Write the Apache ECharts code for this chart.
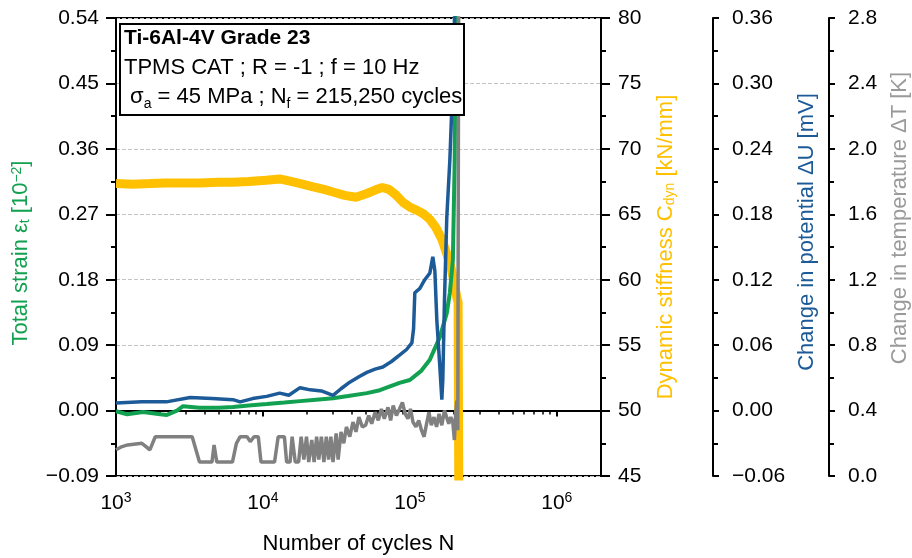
<!DOCTYPE html>
<html>
<head>
<meta charset="utf-8">
<script src="https://cdn.jsdelivr.net/npm/echarts@6/dist/echarts.min.js"></script>
<style>
  html, body { margin: 0; padding: 0; background: #fff; }
  #chart { width: 912px; height: 558px; }
</style>
</head>
<body>
<div id="chart"></div>
<script>
// number of cycles range (log axis)
var xMin = 1000;
var xMax = 2000000;
var majorTicks = [1e3, 1e4, 1e5, 1e6];

// dynamic stiffness C_dyn [kN/mm]
var stiffness = [
  [1000, 67.35], [1300, 67.3], [1700, 67.35], [2200, 67.4], [3000, 67.4], [3700, 67.4],
  [5000, 67.45], [6200, 67.45], [8000, 67.5], [10500, 67.6], [13000, 67.7], [15000, 67.55],
  [18000, 67.35], [22000, 67.1], [26000, 66.9], [30000, 66.7], [36000, 66.45], [43000, 66.3],
  [50000, 66.55], [58000, 66.85], [65000, 67.05], [72000, 66.9], [80000, 66.5], [90000, 65.9],
  [100000, 65.55], [112000, 65.3], [125000, 65.0], [137000, 64.6], [150000, 64.0], [165000, 63.1],
  [178000, 62.0], [190000, 61.0], [200000, 59.8], [210000, 58.5], [213000, 58.3], [215250, 44]
];

// total strain [10^-2]
var strain = [
  [1000, -0.001], [1190, -0.005], [1530, -0.002], [2000, -0.005], [2220, -0.006], [2600, 0.0],
  [2860, 0.006], [3700, 0.004], [5000, 0.004], [6250, 0.005], [8000, 0.007], [10600, 0.009],
  [14000, 0.011], [17900, 0.013], [23000, 0.015], [30000, 0.017], [38000, 0.020], [51000, 0.024],
  [62500, 0.028], [85000, 0.038], [100000, 0.042], [120000, 0.055], [136800, 0.07], [160000, 0.101],
  [178400, 0.134], [187200, 0.162], [196200, 0.207], [202000, 0.345], [206000, 0.6]
];

// change in potential dU [mV]
var potential = [
  [1000, 0.007], [1500, 0.008], [2200, 0.008], [3200, 0.012], [4500, 0.011], [6250, 0.010],
  [7000, 0.008], [8500, 0.011], [10600, 0.013], [13000, 0.016], [15000, 0.014], [17900, 0.021],
  [21000, 0.019], [25000, 0.018], [30000, 0.014], [34000, 0.020], [39000, 0.026], [45000, 0.031],
  [51000, 0.035], [58000, 0.038], [65500, 0.040], [75000, 0.045], [85500, 0.051], [95000, 0.056],
  [103200, 0.062], [106000, 0.075], [108100, 0.108], [117000, 0.112], [126400, 0.120], [136800, 0.126],
  [143300, 0.141], [148000, 0.128], [152600, 0.083], [160000, 0.04], [165100, 0.010], [167600, 0.028],
  [172000, 0.10], [178400, 0.177], [187200, 0.230], [196200, 0.303], [205000, 0.40]
];

// change in temperature dT [K]
var temperature = [
  [1000, 0.16], [1100, 0.18], [1200, 0.19], [1500, 0.20], [1600, 0.18], [1700, 0.16], [1850, 0.24],
  [3300, 0.24], [3700, 0.085], [4500, 0.085], [4650, 0.19], [4850, 0.085], [6200, 0.085], [6600, 0.2],
  [7000, 0.24], [7800, 0.24], [8200, 0.21], [8700, 0.24], [9300, 0.24], [9700, 0.085], [12000, 0.085],
  [12700, 0.24], [14000, 0.24], [14500, 0.085], [15300, 0.085], [15800, 0.24], [16600, 0.085],
  [17500, 0.085], [18200, 0.24], [19000, 0.1], [19800, 0.24], [20500, 0.085], [21500, 0.22],
  [22300, 0.085], [23200, 0.24], [24000, 0.1], [25000, 0.24], [26000, 0.085], [27000, 0.24],
  [28000, 0.1], [29000, 0.24], [30000, 0.085], [31500, 0.26], [32500, 0.1], [34000, 0.27],
  [35500, 0.2], [37000, 0.3], [39000, 0.24], [41000, 0.33], [43000, 0.27], [45000, 0.36],
  [47500, 0.3], [50000, 0.31], [52500, 0.37], [55000, 0.32], [58000, 0.39], [61000, 0.34],
  [64000, 0.41], [67000, 0.35], [71000, 0.42], [74000, 0.34], [77000, 0.43], [81000, 0.37],
  [85000, 0.41], [89000, 0.45], [93000, 0.38], [97000, 0.35], [101000, 0.41], [105000, 0.33],
  [110000, 0.3], [115000, 0.34], [120000, 0.28], [125000, 0.24], [130000, 0.32], [135000, 0.39],
  [140000, 0.31], [146000, 0.36], [152000, 0.3], [158000, 0.38], [165000, 0.31], [172000, 0.4],
  [178000, 0.36], [184000, 0.32], [190000, 0.36], [196000, 0.33], [201000, 0.22], [205000, 0.38],
  [209000, 0.46], [212000, 0.28], [215250, 3.2]
];

var GREEN = '#12a150';
var ORANGE = '#ffc000';
var BLUE = '#1c5a98';
var GRAY = '#808080';
var FONT = 'Liberation Sans, Arial, sans-serif';

// minor tick positions for the log axis (2..9 x 10^n), placed on a helper value axis in log10 units
var minorLog = [];
for (var e = 3; e <= 6; e++) {
  for (var m = 2; m <= 9; m++) {
    var v = m * Math.pow(10, e);
    if (v <= xMax) minorLog.push(Math.log10(v));
  }
}

function minusFmt(digits) {
  return function (v) { return v.toFixed(digits).replace('-', '\u2212'); };
}

function yAx(opt) {
  return Object.assign({
    type: 'value',
    position: 'right',
    nameLocation: 'middle',
    nameRotate: 90,
    axisLine: { show: true, onZero: false, lineStyle: { color: '#000', width: 2 } },
    axisTick: { show: true, length: 8, lineStyle: { color: '#000', width: 2 } },
    minorTick: { show: true, splitNumber: 2, length: 5, lineStyle: { color: '#000', width: 2 } },
    axisLabel: { color: '#000', fontSize: 21, fontFamily: FONT, margin: 17 },
    splitLine: { show: false }
  }, opt);
}

// shift = move the name along the axis (positive = up), in px
function nameStyle(color, shift) {
  var base = { color: color, fontSize: 22, fontFamily: FONT };
  var pad = shift >= 0 ? [0, 0, 0, 2 * shift] : [0, -2 * shift, 0, 0];
  return {
    color: color, fontSize: 22, fontFamily: FONT, padding: pad,
    rich: {
      n: base,
      sub: { color: color, fontSize: 14, fontFamily: FONT, verticalAlign: 'bottom', padding: [8, 0, 0, 0] },
      sup: { color: color, fontSize: 14, fontFamily: FONT, verticalAlign: 'top', padding: [0, 0, 8, 0] }
    }
  };
}

var chart = echarts.init(document.getElementById('chart'), null, { renderer: 'canvas' });

var option = {
  animation: false,
  backgroundColor: '#fff',
  grid: {
    left: 116, right: 311, top: 18, bottom: 82,
    outerBoundsMode: 'none',
    show: true, borderColor: '#000', borderWidth: 2, backgroundColor: 'transparent'
  },
  xAxis: [{
    type: 'log',
    logBase: 10,
    min: xMin,
    max: xMax,
    position: 'bottom',
    name: 'Number of cycles N',
    nameLocation: 'middle',
    nameGap: 57,
    nameTextStyle: { color: '#000', fontSize: 22, fontFamily: FONT },
    axisLine: { show: true, lineStyle: { color: '#000', width: 2 } },
    axisTick: { show: true, length: 6, lineStyle: { color: '#000', width: 2 } },
    axisLabel: {
      margin: 15,
      color: '#000',
      formatter: function (v) {
        var p = Math.round(Math.log10(v));
        if (majorTicks.indexOf(Math.pow(10, p)) < 0 || Math.abs(v - Math.pow(10, p)) > 1e-6 * v) return '';
        return '{b|10}{s|' + p + '}';
      },
      rich: {
        b: { fontSize: 21, fontFamily: FONT, color: '#000' },
        s: { fontSize: 14, fontFamily: FONT, color: '#000', verticalAlign: 'top', padding: [0, 0, 10, 0] }
      }
    },
    splitLine: { show: false }
  }, {
    type: 'value',
    min: 3,
    max: Math.log10(xMax),
    position: 'bottom',
    offset: 0,
    axisLine: { show: false },
    axisLabel: { show: false },
    splitLine: { show: false },
    axisTick: { show: true, length: 4, customValues: minorLog, lineStyle: { color: '#000', width: 1.5 } }
  }],
  yAxis: [
    yAx({
      position: 'left',
      min: -0.09, max: 0.54, interval: 0.09,
      name: '{n|Total strain \u03b5}{sub|t}{n| [10}{sup|\u22122}{n|]}',
      nameGap: 84,
      nameTextStyle: nameStyle(GREEN, -6),
      axisLabel: { color: '#000', fontSize: 21, fontFamily: FONT, margin: 17, formatter: minusFmt(2) },
      axisTick: { show: true, length: 10, lineStyle: { color: '#000', width: 2 } },
      splitLine: { show: true, lineStyle: { color: '#c4c4c4', type: 'dashed', width: 1 } }
    }),
    yAx({
      min: 45, max: 80, interval: 5,
      name: '{n|Dynamic stiffness C}{sub|dyn}{n| [kN/mm]}',
      nameGap: 54,
      nameTextStyle: nameStyle(ORANGE, 0),
      axisTick: { show: true, length: 9, lineStyle: { color: '#000', width: 2 } }
    }),
    yAx({
      offset: 112,
      min: -0.06, max: 0.36, interval: 0.06,
      name: 'Change in potential \u0394U [mV]',
      nameGap: 72,
      nameTextStyle: nameStyle(BLUE, 15),
      axisLabel: { color: '#000', fontSize: 21, fontFamily: FONT, margin: 19, formatter: minusFmt(2) },
      axisTick: { show: true, length: 6, lineStyle: { color: '#000', width: 2 } },
      minorTick: { show: true, splitNumber: 2, length: 5, lineStyle: { color: '#000', width: 2 } }
    }),
    yAx({
      offset: 228,
      min: 0, max: 2.8, interval: 0.4,
      name: 'Change in temperature \u0394T [K]',
      nameGap: 60,
      nameTextStyle: nameStyle('#9a9a9a', 29),
      axisLabel: { color: '#000', fontSize: 21, fontFamily: FONT, margin: 19, formatter: minusFmt(1) },
      axisTick: { show: true, length: 6, lineStyle: { color: '#000', width: 2 } },
      minorTick: { show: true, splitNumber: 2, length: 5, lineStyle: { color: '#000', width: 2 } }
    })
  ],
  series: [
    {
      name: 'stiffness', type: 'line', xAxisIndex: 0, yAxisIndex: 1, data: stiffness,
      showSymbol: false, lineStyle: { color: ORANGE, width: 9 }, z: 2
    },
    {
      name: 'strain', type: 'line', xAxisIndex: 0, yAxisIndex: 0, data: strain,
      showSymbol: false, lineStyle: { color: GREEN, width: 4 }, z: 3
    },
    {
      name: 'potential', type: 'line', xAxisIndex: 0, yAxisIndex: 2, data: potential,
      showSymbol: false, lineStyle: { color: BLUE, width: 3.5 }, z: 4
    },
    {
      name: 'temperature', type: 'line', xAxisIndex: 0, yAxisIndex: 3, data: temperature,
      showSymbol: false, lineStyle: { color: GRAY, width: 3.5 }, z: 3
    }
  ],
  graphic: [
    {
      type: 'rect', left: 119, top: 23, z: 100,
      shape: { width: 344, height: 91 },
      style: { fill: '#fff', stroke: '#000', lineWidth: 2 }
    },
    {
      type: 'text', left: 124, top: 24, z: 101,
      style: {
        text: '{b|Ti-6Al-4V Grade 23}\n{n|TPMS CAT ; R = -1 ; f = 10 Hz}\n{n| \u03c3}{sub|a}{n| = 45 MPa ; N}{sub|f}{n| = 215,250 cycles}',
        fontFamily: FONT, fontSize: 22, fill: '#000', lineHeight: 29,
        rich: {
          b: { fontSize: 21, fontWeight: 'bold', fontFamily: FONT, fill: '#000', lineHeight: 29 },
          n: { fontSize: 22, fontFamily: FONT, fill: '#000', lineHeight: 29 },
          sub: { fontSize: 14, fontFamily: FONT, fill: '#000', lineHeight: 29, verticalAlign: 'bottom', padding: [10, 0, 0, 0] }
        }
      }
    }
  ]
};

chart.setOption(option);
</script>
</body>
</html>
